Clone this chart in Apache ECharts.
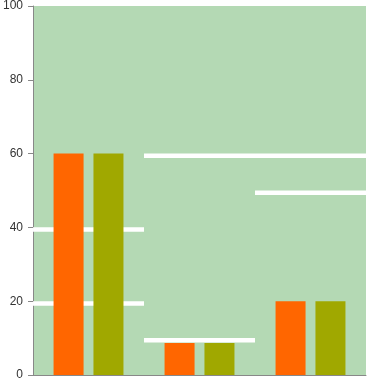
<!DOCTYPE html>
<html><head><meta charset="utf-8">
<script src="https://cdn.jsdelivr.net/npm/echarts@6/dist/echarts.min.js"></script>
<style>html,body{margin:0;padding:0;background:#fff}#c{width:384px;height:388px}</style>
</head><body><div id="c"></div>
<script>
var categories = ['A', 'B', 'C'];
var seriesOrange = [60, 8.7, 20];
var seriesOlive = [60, 8.7, 20];
var lineUpper = [39.4, 59.4, 59.4];
var lineLower = [19.4, 9.4, 49.4];
var yTicks = [0, 20, 40, 60, 80, 100];

var segData = [];
for (var i = 0; i < categories.length; i++) {
  segData.push([i, lineUpper[i]]);
  segData.push([i, lineLower[i]]);
}

var chart = echarts.init(document.getElementById('c'));
chart.setOption({
  animation: false,
  grid: { left: 33, right: 18, top: 4, bottom: 13, show: true, backgroundColor: '#b4d9b4', borderWidth: 0 },
  xAxis: {
    type: 'category', data: categories,
    axisLine: { lineStyle: { color: '#888', width: 1 } },
    axisTick: { show: false }, axisLabel: { show: false }
  },
  yAxis: {
    type: 'value', min: yTicks[0], max: yTicks[yTicks.length - 1], interval: 20,
    axisLine: { show: true, lineStyle: { color: '#888', width: 1 } },
    axisTick: { show: true, length: 5, lineStyle: { color: '#888' } },
    axisLabel: { color: '#333', fontSize: 12, margin: 10, fontFamily: 'Arial, "Liberation Sans", sans-serif' },
    splitLine: { show: false }
  },
  series: [
    {
      type: 'custom', z: 1,
      renderItem: function (params, api) {
        var c = api.coord([api.value(0), api.value(1)]);
        var bw = api.size([1, 0])[0];
        return {
          type: 'line',
          shape: { x1: c[0] - bw / 2, y1: c[1], x2: c[0] + bw / 2, y2: c[1] },
          style: { stroke: '#ffffff', lineWidth: 4.5 }
        };
      },
      data: segData
    },
    { type: 'bar', z: 3, data: seriesOrange, barWidth: 30, barGap: '33%', itemStyle: { color: '#ff6600' } },
    { type: 'bar', z: 3, data: seriesOlive, barWidth: 30, barGap: '33%', itemStyle: { color: '#a0a800' } }
  ]
});
</script></body></html>
